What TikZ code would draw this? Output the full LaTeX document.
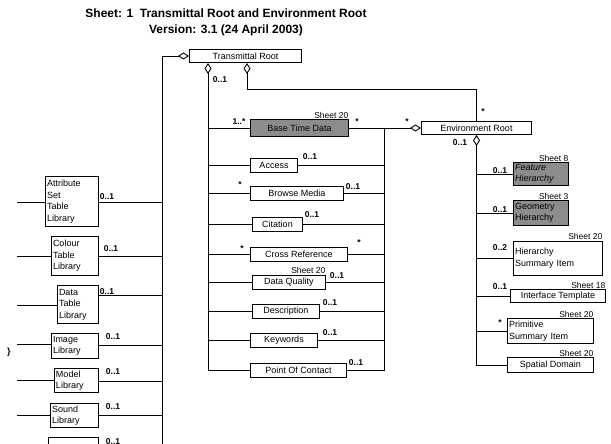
\documentclass[tikz,border=0pt]{standalone}
\usepackage{fontspec}
\setmainfont{Liberation Sans}
\usetikzlibrary{arrows.meta}
\tikzset{
  cls/.style={draw, line width=1pt, font=\fontsize{9}{11.5}\selectfont,
    inner sep=1.2pt, minimum height=14pt},
  shaded/.style={cls, fill=black!45},
  stack/.style={cls, align=left, inner sep=1.5pt},
  wire/.style={line width=0.9pt},
  agg/.style={wire, {Diamond[open, length=11pt, width=7pt]}-},
  aggend/.style={wire, -{Diamond[open, length=11pt, width=7pt]}},
  mult/.style={font=\fontsize{8.5}{9}\selectfont\bfseries, inner sep=1pt},
  sheet/.style={font=\fontsize{8.5}{9}\selectfont, inner sep=0.5pt, anchor=south east},
  title/.style={font=\fontsize{12}{14}\selectfont\bfseries},
}

\begin{document}
\begin{tikzpicture}[x=1pt, y=-1pt]
\useasboundingbox (0,0) rectangle (611,444);
\clip (0,0) rectangle (611,444);

%% ---- heading -----------------------------------------------------------
\node[title] (t1) at (226,13) {Sheet: 1\ \ Transmittal Root and Environment Root};
\node[title] (t2) at (226,30) {Version: 3.1 (24 April 2003)};

%% ---- roots -------------------------------------------------------------
\node[cls, anchor=west, minimum width=112pt, minimum height=13pt] (tr) at (189,56) {Transmittal Root};
\node[cls, anchor=west, minimum width=110pt, minimum height=13pt] (er) at (421,128) {Environment Root};

%% ---- transmittal root components ---------------------------------------
\node[shaded, anchor=west, minimum width=98pt, minimum height=17pt] (btd) at (250,128) {Base Time Data};
\foreach \n/\x/\w/\y/\t in
    {acc/250/47/165/Access, brm/250/93/193/Browse Media, cit/252/50/224/Citation,
     crf/250/97/254/Cross Reference, dq/252/73/282/Data Quality,
     dsc/252/67/311/Description, kw/250/67/340/Keywords,
     poc/250/96/370/Point Of Contact}
  \node[cls, anchor=west, minimum width=\w pt] (\n) at (\x,\y) {\t};

% left bus from the first diamond, right bus towards the environment root
\draw[agg] (208,0 |- tr.south) -- (208,0 |- poc.west) -- (poc.west);
\foreach \n in {btd,acc,brm,cit,crf,dq,dsc,kw}
  \draw[wire] (208,0 |- \n.west) -- (\n.west);
\draw[aggend] (btd.east) -- (er.west);
\draw[wire] (384,0 |- btd.east) -- (384,0 |- poc.east) -- (poc.east);
\foreach \n in {acc,brm,cit,crf,dq,dsc,kw}
  \draw[wire] (\n.east) -- (384,0 |- \n.east);
\draw[agg] (247,0 |- tr.south) -- ++(0,26) -| (er.north);

%% ---- environment root components ---------------------------------------
\node[shaded, stack, anchor=west, text width=52pt, minimum height=22pt] (fh) at (513,174) {\itshape Feature\\\itshape Hierarchy};
\node[shaded, stack, anchor=west, text width=52pt, minimum height=25pt] (gh) at (513,213) {Geometry\\Hierarchy};
\node[stack, anchor=west, text width=86pt, minimum height=34pt] (hsi) at (513,258) {Hierarchy\\Summary Item};
\node[cls, anchor=west, minimum width=95pt, minimum height=13pt] (it) at (510,296) {Interface Template};
\node[stack, anchor=west, text width=83pt, minimum height=25pt] (psi) at (507,331) {Primitive\\Summary Item};
\node[cls, anchor=west, minimum width=86pt, minimum height=15pt] (sd) at (507,365) {Spatial Domain};

\draw[agg] (er.south) -- (er.south |- sd.west) -- (sd.west);
\foreach \n in {fh,gh,hsi,it,psi}
  \draw[wire] (er.south |- \n.west) -- (\n.west);

% sheet references
\foreach \n/\s in {btd/20, dq/20, fh/8, gh/3, hsi/20, it/18, psi/20, sd/20}
  \node[sheet] (s-\n) at (\n.north east) {Sheet \s};

%% ---- libraries ---------------------------------------------------------
\foreach \n/\y/\w/\h/\yl/\yr/\t in
    {asl/176/53/50/202/202/{Attribute\\Set\\Table\\Library},
     ctl/236/47/39/256/256/{Colour\\Table\\Library},
     dtl/285/41/38/305/295/{Data\\Table\\Library},
     il/333/47/25/344/345/{Image\\Library},
     ml/368/44/24/380/381/{Model\\Library},
     sl/403/48/24/415/415/{Sound\\Library},
     syl/437/50/38/456/450/{Symbol\\Library}} {
  \node[stack, anchor=north east, text width=\w pt-3pt, minimum height=\h pt] (\n) at (99,\y) {\t};
  \draw[wire] (\n.west |- 0,\yl) -- (17,\yl);
  \draw[wire] (\n.east |- 0,\yr) -- (162,\yr);
}
\draw[agg] (tr.west) -- (162,0 |- tr.west) -- (162,460);

%% ---- multiplicities ----------------------------------------------------
\foreach \x/\y/\m [count=\i] in
    {220/80/0..1, 239/122/1..*, 357/122/*, 407/122/*, 483/112/*, 460/143/0..1,
     310/157/0..1, 240/185/*, 353/187/0..1, 312/215/0..1, 242/249/*, 359/243/*,
     337/276/0..1, 330/303/0..1, 330/333/0..1, 356/363/0..1,
     500/171/0..1, 500/210/0..1, 500/248/0..2, 500/287/0..1, 500/323/*,
     107/197/0..1, 111/249/0..1, 107/292/0..1, 113/337/0..1, 113/372/0..1,
     113/407/0..1, 113/442/0..1}
  \node[mult] (m\i) at (\x,\y) {\m};

\node[font=\bfseries\small] (edge) at (9,352) {\}};

\end{tikzpicture}
\end{document}
